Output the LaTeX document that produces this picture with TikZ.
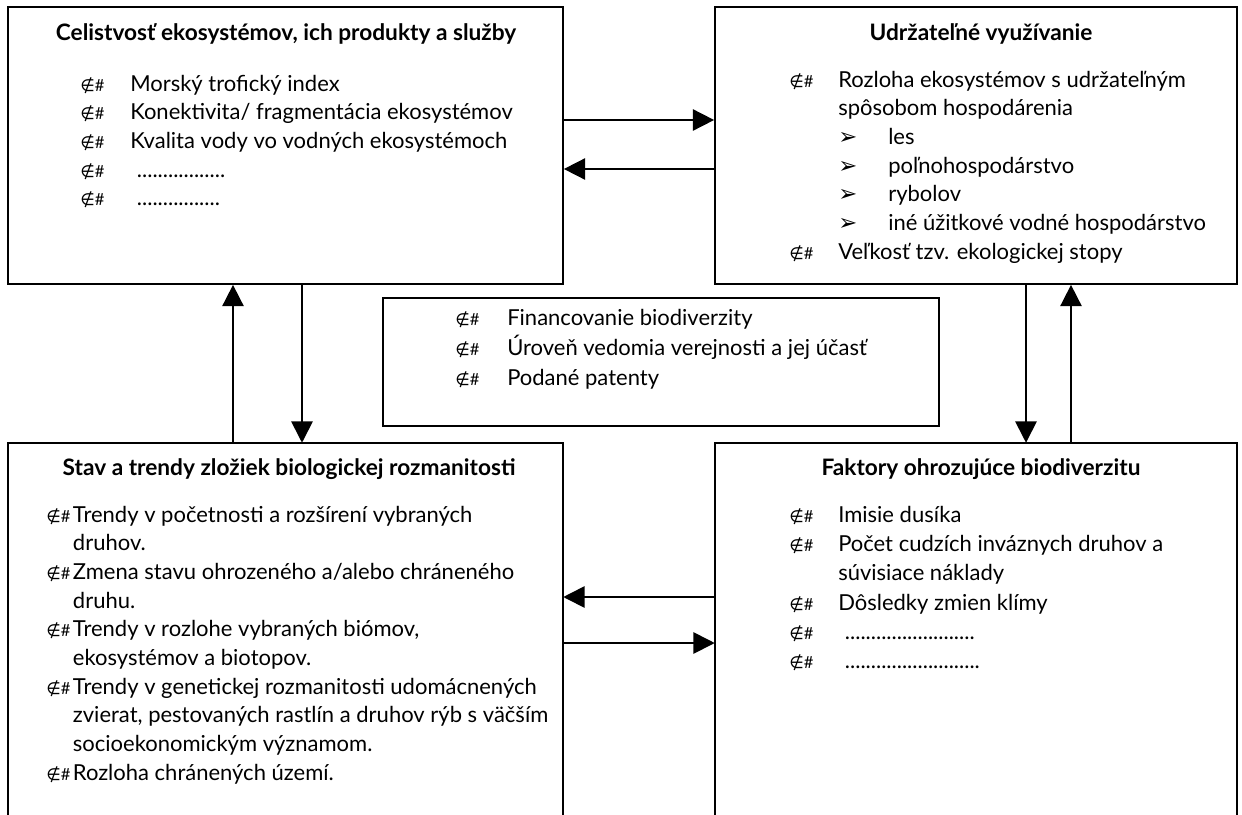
\documentclass[tikz,border=0pt]{standalone}
\usepackage{fontspec}
\setmainfont{Lato}
\newfontfamily\symfont{DejaVu Sans}
\usetikzlibrary{arrows.meta,fit,positioning}

\newcommand{\nbul}{{\fontsize{12.5}{12.5}\selectfont{\symfont ∉}\#}}
\newcommand{\arrbul}{{\symfont\fontsize{17}{17}\selectfont ➢}}

\begin{document}
\begin{tikzpicture}[x=0.75pt,y=0.75pt,yscale=-1,xscale=1,
    panel/.style={draw, line width=1.3pt, inner sep=0pt},
    title/.style={font=\fontsize{17}{20}\selectfont\bfseries, anchor=base, inner sep=0pt},
    items/.style={anchor=base west, inner sep=0pt, font=\fontsize{16.5}{21.5}\selectfont},
    link/.style={line width=1.3pt, -{Triangle[length=16pt,width=16pt]}}]
    \useasboundingbox (0,0) rectangle (1242,814);

    % Boxes
    \node [panel, fit={(8,7) (563,284)}] (integ) {};
    \node [panel, fit={(715,7) (1237,284)}] (use) {};
    \node [panel, fit={(383,298) (939,426)}] (misc) {};
    \node [inner sep=0pt, fit={(8,443) (563,830)}] (state) {};
    \node [inner sep=0pt, fit={(715,443) (1237,830)}] (threat) {};
    \draw [line width=1.3pt] (state.south west) -- (state.north west) -- (state.north east) -- (state.south east);
    \draw [line width=1.3pt] (threat.south west) -- (threat.north west) -- (threat.north east) -- (threat.south east);

    % Titles
    \node [title] (integ-t) at (286,40) {Celistvosť ekosystémov, ich produkty a služby};
    \node [title] (use-t) at (981,40) {Udržateľné využívanie};
    \node [title] (state-t) at (289,475) {Stav a trendy zložiek biologickej rozmanitosti};
    \node [title] (threat-t) at (981,475) {Faktory ohrozujúce biodiverzitu};

    % Lists
    \node [items] (integ-l) at (80,91) {\begin{tabular}[t]{@{}p{37.5pt}@{}l@{}}
    \nbul & Morský trofický index\\
    \nbul & Konektivita/ fragmentácia ekosystémov\\
    \nbul & Kvalita vody vo vodných ekosystémoch\\
    \nbul & \hspace{5pt}.................\\
    \nbul & \hspace{5pt}................
    \end{tabular}};
    \node [items] (use-l) at (789,87) {\begin{tabular}[t]{@{}p{36.75pt}@{}p{37.5pt}@{}l@{}}
    \nbul & \multicolumn{2}{@{}l@{}}{Rozloha ekosystémov s udržateľným}\\
    & \multicolumn{2}{@{}l@{}}{spôsobom hospodárenia}\\
    & \arrbul & les\\
    & \arrbul & poľnohospodárstvo\\
    & \arrbul & rybolov\\
    & \arrbul & iné úžitkové vodné hospodárstvo\\
    \nbul & \multicolumn{2}{@{}l@{}}{Veľkosť tzv. ekologickej stopy}
    \end{tabular}};
    \node [items, font=\fontsize{16.5}{22.5}\selectfont] (misc-l) at (455,325) {\begin{tabular}[t]{@{}p{39pt}@{}l@{}}
    \nbul & Financovanie biodiverzity\\
    \nbul & Úroveň vedomia verejnosti a jej účasť\\
    \nbul & Podané patenty
    \end{tabular}};
    \node [items] (state-l) at (46,522) {\begin{tabular}[t]{@{}p{20pt}@{}l@{}}
    \nbul & Trendy v početnosti a rozšírení vybraných\\
    & druhov.\\
    \nbul & Zmena stavu ohrozeného a/alebo chráneného\\
    & druhu.\\
    \nbul & Trendy v rozlohe vybraných biómov,\\
    & ekosystémov a biotopov.\\
    \nbul & Trendy v genetickej rozmanitosti udomácnených\\
    & zvierat, pestovaných rastlín a druhov rýb s väčším\\
    & socioekonomickým významom.\\
    \nbul & Rozloha chránených území.
    \end{tabular}};
    \node [items, font=\fontsize{16.5}{22}\selectfont] (threat-l) at (789,522) {\begin{tabular}[t]{@{}p{36.75pt}@{}l@{}}
    \nbul & Imisie dusíka\\
    \nbul & Počet cudzích inváznych druhov a\\
    & súvisiace náklady\\
    \nbul & Dôsledky zmien klímy\\
    \nbul & \hspace{5pt}.........................\\
    \nbul & \hspace{5pt}..........................
    \end{tabular}};

    % Connectors
    \draw [link] (integ.east |- 0,120) -- (use.west |- 0,120);
    \draw [link] (use.west |- 0,169) -- (integ.east |- 0,169);
    \draw [link] (state.north -| 233,0) -- (integ.south -| 233,0);
    \draw [link] (integ.south -| 302,0) -- (state.north -| 302,0);
    \draw [link] (use.south -| 1026,0) -- (threat.north -| 1026,0);
    \draw [link] (threat.north -| 1071,0) -- (use.south -| 1071,0);
    \draw [link] (threat.west |- 0,597) -- (state.east |- 0,597);
    \draw [link] (state.east |- 0,643) -- (threat.west |- 0,643);
\end{tikzpicture}
\end{document}
